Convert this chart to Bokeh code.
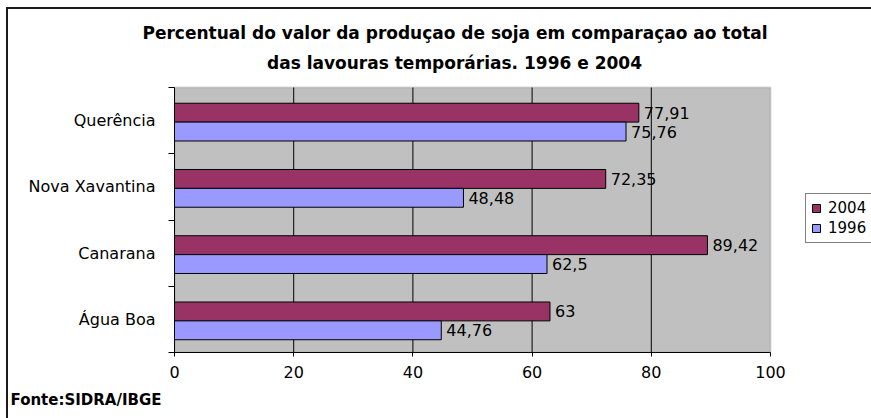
from bokeh.plotting import figure
from bokeh.models import (ColumnDataSource, Range1d, FixedTicker, LabelSet, Label, Title,
                          Legend, LegendItem, InlineStyleSheet, BoxAnnotation)
from bokeh.core.properties import value
from bokeh.transform import dodge
from bokeh.embed import file_html
from bokeh.resources import INLINE

# ---- data ----
categories = ["Água Boa", "Canarana", "Nova Xavantina", "Querência"]
values_2004 = [63.0, 89.42, 72.35, 77.91]
values_1996 = [44.76, 62.5, 48.48, 75.76]
series_names = ["2004", "1996"]
x_ticks = [0, 20, 40, 60, 80, 100]
title_lines = ["Percentual do valor da produçao de soja em comparaçao ao total",
               "das lavouras temporárias. 1996 e 2004"]
source_note = "Fonte:SIDRA/IBGE"

FONT = "DejaVu Sans"
C04, C96 = "#993366", "#9999FF"


def fmt(v):
    return f"{v:g}".replace(".", ",")


# ---- layout (pixels) ----
W, H = 871, 418
FL, FR, FT, FB = 174, 770, 87, 352      # plot area (gray box)
TOP = 44                                 # top of the drawing frame
NCAT = len(categories)
XMAX = x_ticks[-1]
XS = (FR - FL) / XMAX                    # px per x unit
YS = (FB - FT) / NCAT                    # px per category


def dx(px):
    return (px - FL) / XS


def dy(py):
    return (FB - py) / YS


p = figure(frame_width=W - FL, frame_height=FB - TOP,
           output_backend="svg", toolbar_location=None, title=None,
           x_range=Range1d(0, dx(W)), y_range=Range1d(0, dy(TOP)),
           min_border_left=FL, min_border_right=0,
           min_border_top=TOP, min_border_bottom=H - FB)

p.background_fill_color = "white"
p.border_fill_color = "white"
p.outline_line_color = None

# gray plot area
p.add_layout(BoxAnnotation(left=0, right=XMAX, bottom=0, top=NCAT,
                           fill_color="#C0C0C0", fill_alpha=1,
                           line_color="#808080", line_width=2, level="image"))

# vertical grid lines inside the plot area
p.xgrid.visible = False
p.ygrid.visible = False
inner = x_ticks[1:-1]
p.segment(x0=inner, x1=inner, y0=[0] * len(inner), y1=[NCAT] * len(inner),
          line_color="black", line_width=1)

ypos = [i + 0.5 for i in range(NCAT)]
src = ColumnDataSource(dict(
    cat=categories, y=ypos, v04=values_2004, v96=values_1996,
    l04=[fmt(v) for v in values_2004], l96=[fmt(v) for v in values_1996]))

OFF04, OFF96, BH = 0.12, -0.165, 0.285
r04 = p.hbar(y=dodge("y", OFF04), left=0, right="v04", height=BH, source=src,
             fill_color=C04, line_color="black", line_width=1)
r96 = p.hbar(y=dodge("y", OFF96), left=0, right="v96", height=BH, source=src,
             fill_color=C96, line_color="black", line_width=1)

for col, off in (("04", OFF04), ("96", OFF96)):
    p.add_layout(LabelSet(x="v" + col, y=dodge("y", off), text="l" + col, source=src,
                          x_offset=5, text_baseline="middle", text_align="left",
                          text_font=value(FONT), text_font_size="16px",
                          text_color="black"))

# ---- axes ----
xa = p.xaxis[0]
xa.ticker = FixedTicker(ticks=x_ticks)
xa.bounds = (0, XMAX)
xa.axis_line_color = "black"
xa.major_tick_in = 0
xa.major_tick_out = 4
xa.major_tick_line_color = "black"
xa.minor_tick_line_color = None
xa.major_label_standoff = 9
xa.major_label_text_font = FONT
xa.major_label_text_font_size = "16px"
xa.major_label_text_color = "black"

ya = p.yaxis[0]
ya.ticker = FixedTicker(ticks=ypos, minor_ticks=list(range(NCAT + 1)))
ya.bounds = (0, NCAT)
ya.major_label_overrides = {y: c for y, c in zip(ypos, categories)}
ya.axis_line_color = "black"
ya.major_tick_in = 0
ya.major_tick_out = 0
ya.major_tick_line_color = None
ya.minor_tick_in = 0
ya.minor_tick_out = 6
ya.minor_tick_line_color = "black"
ya.major_label_standoff = 13
ya.major_label_text_font = FONT
ya.major_label_text_font_size = "16px"
ya.major_label_text_color = "black"

# ---- legend ----
legend = Legend(items=[LegendItem(label=series_names[0], renderers=[r04]),
                       LegendItem(label=series_names[1], renderers=[r96])],
                location=(805 - FL, FB - 243),
                border_line_color="black", border_line_width=1,
                background_fill_color="white", background_fill_alpha=1,
                padding=5, spacing=2, margin=0,
                glyph_width=10, glyph_height=10, label_standoff=7,
                label_height=18,
                label_text_font=FONT, label_text_font_size="15px",
                label_text_color="black")
p.add_layout(legend)

# ---- title (line 1 in the top panel, line 2 inside the frame) / note ----
TITLE_CX = 454
p.add_layout(Title(text=title_lines[0], align="left", offset=TITLE_CX - 312 - FL,
                   vertical_align="bottom",
                   text_font=FONT, text_font_size="17px", text_font_style="bold",
                   text_color="black", standoff=4), "above")
p.add_layout(Label(x=dx(TITLE_CX), y=dy(62), text=title_lines[1], text_align="center",
                   text_baseline="alphabetic", text_font=FONT, text_font_size="17px",
                   text_font_style="bold", text_color="black"))
p.add_layout(Title(text=source_note, align="left", offset=10 - FL,
                   text_font=FONT, text_font_size="15px", text_font_style="bold",
                   text_color="black", standoff=16), "below")

# ---- outer chart border (top/left edges) ----
p.stylesheets = [InlineStyleSheet(css=(
    ":host::after{content:'';position:absolute;left:6px;top:7px;right:0;bottom:0;"
    "border-left:2px solid #1a1a1a;border-top:2px solid #1a1a1a;pointer-events:none;}"))]

open("out.html", "w").write(file_html(p, INLINE))
